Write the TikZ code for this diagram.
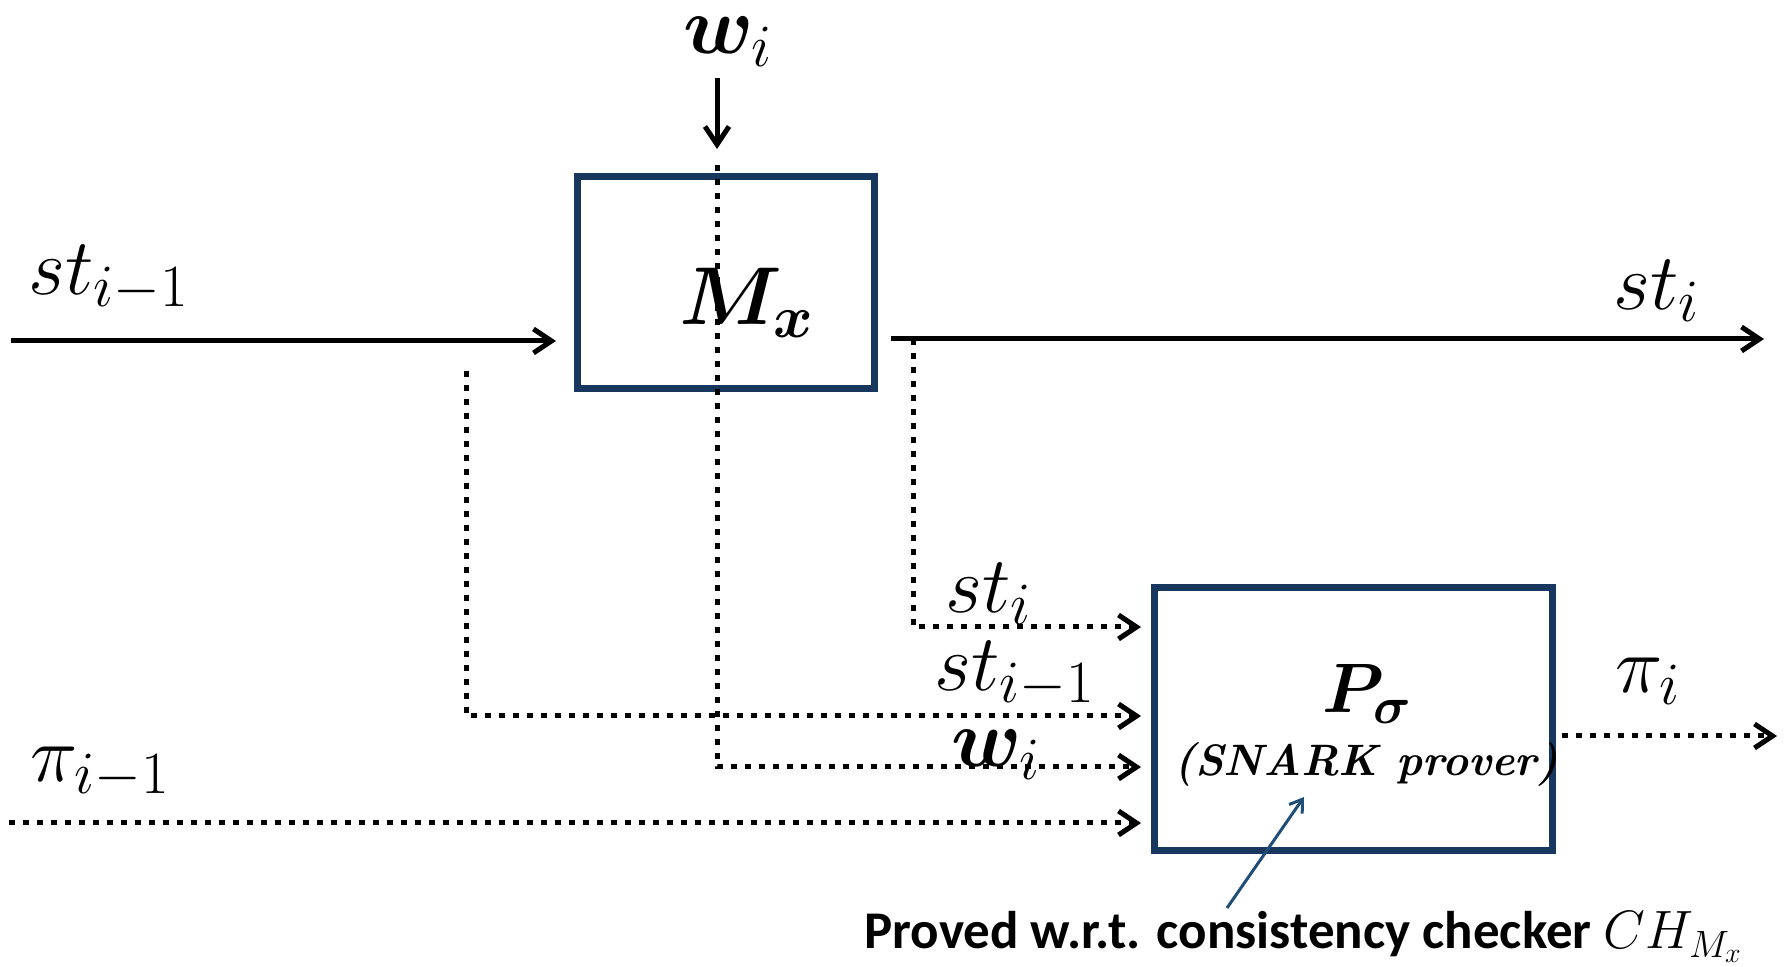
\RequirePackage{fix-cm}
\documentclass[tikz,border=0pt]{standalone}
\usepackage{amsmath}
\usepackage{bm}
\usepackage{fontspec}
\newfontfamily\carlito{Carlito}
\usetikzlibrary{arrows.meta,calc}
\DeclareMathSizes{40}{40}{30}{22}
\DeclareMathSizes{41}{41}{30}{22}
\DeclareMathSizes{35}{35}{26}{19}
\DeclareMathSizes{26.5}{27}{19}{14}
\definecolor{boxblue}{RGB}{23,55,94}
\definecolor{noteblue}{RGB}{31,78,121}
\tikzset{
  procbox/.style={draw=boxblue, line width=3.5pt, inner sep=0pt},
  lab/.style={inner sep=0pt, anchor=base west},
  solidarrow/.style={line width=2.5pt, -{Straight Barb[length=9pt,width=12pt]}},
  dotarrow/.style={line width=2.5pt, dash pattern=on 3pt off 4pt, -{Straight Barb[length=9pt,width=12pt]}},
  notearrow/.style={draw=noteblue, line width=1.5pt, -{Straight Barb[length=6pt,width=8pt]}},
  stfont/.style={font=\fontsize{40}{46}\selectfont},
  bigfont/.style={font=\fontsize{41}{46}\selectfont},
}
\begin{document}
\begin{tikzpicture}[x=0.5pt,y=-0.5pt]
\useasboundingbox (0,0) rectangle (1790,967);
% boxes
\node[procbox, minimum width=148.5pt, minimum height=106pt] (M) at (726,282.5) {};
\node[procbox, minimum width=199pt, minimum height=131.5pt] (P) at (1353.5,719) {};
% free ends
\coordinate (wtop) at (717,78);
\coordinate (wd) at (717,165);
\coordinate (stin) at (11,341);
\coordinate (sd) at (466,371);
\coordinate (td) at (913,339);
\coordinate (stout) at (1764,339);
\coordinate (pin) at (9,823);
\coordinate (pout) at (1777,736);
\coordinate (notetail) at (1227,908);
\coordinate (notehead) at (1304,797);
% solid connectors
\draw[solidarrow, shorten >=12pt] (wtop) -- (wtop |- M.north);
\draw[solidarrow, shorten >=9pt] (stin) -- (stin -| M.west);
\draw[solidarrow, shorten <=6.5pt] (stout -| M.east) -- (stout);
% dotted connectors
\draw[dotarrow, shorten >=5pt] (wd) |- ($(P.west)+(0,48)$);
\draw[dotarrow, shorten >=5pt] (sd) |- ($(P.west)+(0,-3)$);
\draw[dotarrow, shorten >=5pt] (td) |- ($(P.west)+(0,-92)$);
\draw[dotarrow, shorten >=5pt] (pin) -- (pin -| P.west);
\draw[dotarrow, shorten <=3pt] (pout -| P.east) -- (pout);
\draw[notearrow] (notetail) -- (notehead);
% labels
\node[lab, bigfont] (wlab) at (683,54) {$\bm{w}_i$};
\node[lab, stfont] (stlab1) at (28,295) {$st_{i-1}$};
\node[lab, stfont] (stlab2) at (1613,310) {$st_i$};
\node[lab, bigfont] (Mlab) at (679,325) {$\bm{M}_{\bm{x}}$};
\node[lab, stfont] (stlab3) at (945,613) {$st_i$};
\node[lab, stfont] (stlab4) at (934,691) {$st_{i-1}$};
\node[lab, bigfont] (wlab2) at (951,767) {$\bm{w}_i$};
\node[lab, stfont] (pilab1) at (30,782) {$\pi_{i-1}$};
\node[lab, stfont] (pilab2) at (1615,693) {$\pi_i$};
\node[lab, font=\fontsize{35}{40}\selectfont] (Plab) at (1322,713) {$\bm{P}_{\bm{\sigma}}$};
\node[inner sep=0pt, anchor=base, font=\fontsize{22}{26}\selectfont] (snark) at (1366,776) {\textbf{\textit{(SNARK prover)}}};
\node[lab, font=\fontsize{26.5}{32}\selectfont] (proved) at (864,949) {\carlito\bfseries Proved w.r.t. consistency checker $CH_{M_x}$};
\end{tikzpicture}
\end{document}
